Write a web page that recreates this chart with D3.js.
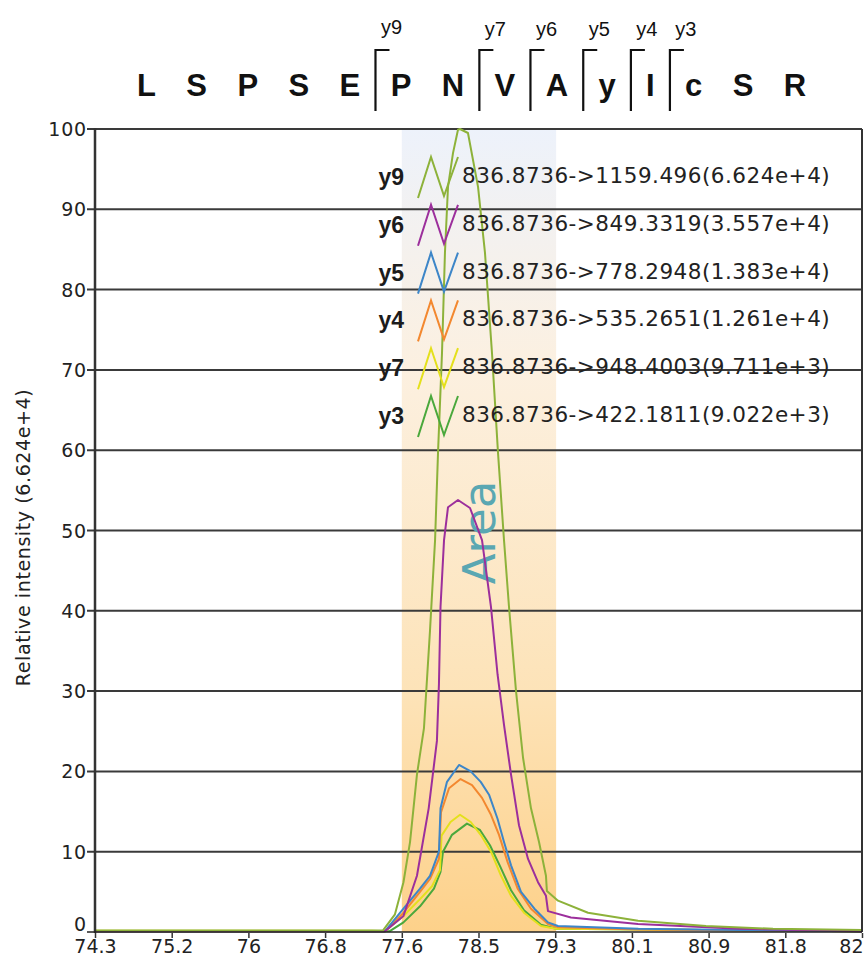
<!DOCTYPE html>
<html>
<head>
<meta charset="utf-8">
<script src="https://cdn.jsdelivr.net/npm/d3@7"></script>
<style>
  body { margin: 0; background: #fff; }
  svg { display: block; }
</style>
</head>
<body>
<div id="wrapper"></div>
<script>
// peptide sequence and fragment breaks
const sequence = ["L", "S", "P", "S", "E", "P", "N", "V", "A", "y", "I", "c", "S", "R"];
const fragmentNames = ["y9", "y7", "y6", "y5", "y4", "y3"];
const fragmentBefore = [5, 7, 8, 9, 10, 11]; // index of residue right after the bracket

// x axis tick labels (retention time)
const xTickLabels = ["74.3", "75.2", "76", "76.8", "77.6", "78.5", "79.3", "80.1", "80.9", "81.8", "82"];
const yTicks = [0, 10, 20, 30, 40, 50, 60, 70, 80, 90, 100];

// integration window
const areaStart = 77.62;
const areaEnd = 79.29;

// legend
const traceNames = ["y9", "y6", "y5", "y4", "y7", "y3"];
const traceTransitions = [
  "836.8736->1159.496(6.624e+4)",
  "836.8736->849.3319(3.557e+4)",
  "836.8736->778.2948(1.383e+4)",
  "836.8736->535.2651(1.261e+4)",
  "836.8736->948.4003(9.711e+3)",
  "836.8736->422.1811(9.022e+3)"
];
const traceColors = ["#8db23a", "#9c2f9c", "#3d86c8", "#f3882f", "#e4e01c", "#4aa83c"];

// traces: [retention time, relative intensity]
const y9Trace = [
  [74.3, 0.2], [76.0, 0.2], [77.3, 0.2], [77.417, 0.2], [77.546, 2.2], [77.638, 6.2], [77.709, 11.2],
  [77.784, 19.6], [77.86, 25.4], [77.925, 37.5], [77.98, 48.8], [78.012, 59.7], [78.055, 72.1],
  [78.087, 84.6], [78.12, 92.8], [78.174, 97.0], [78.228, 99.9], [78.25, 100], [78.336, 99.5],
  [78.445, 92.8], [78.52, 84.6], [78.596, 72.1], [78.661, 59.7], [78.726, 48.8], [78.78, 40.5],
  [78.856, 30.0], [78.932, 21.7], [79.018, 15.4], [79.105, 11.2], [79.18, 7.0], [79.19, 5.1],
  [79.31, 3.9], [79.635, 2.4], [80.176, 1.4], [80.912, 0.75], [81.637, 0.4], [82.6, 0.25]
];
const y6Trace = [
  [74.3, 0.1], [77.3, 0.1], [77.438, 0.1], [77.638, 2.0], [77.784, 7.0], [77.911, 15.4], [78.0, 23.8],
  [78.022, 30.9], [78.039, 40.5], [78.077, 48.8], [78.12, 52.9], [78.228, 53.8], [78.358, 52.8],
  [78.488, 48.8], [78.585, 40.5], [78.656, 32.1], [78.726, 25.8], [78.802, 19.6], [78.888, 13.3],
  [78.986, 9.1], [79.094, 6.2], [79.18, 4.5], [79.202, 2.6], [79.45, 1.8], [80.176, 1.0],
  [81.27, 0.4], [82.6, 0.1]
];
const y5Trace = [
  [74.3, 0.1], [77.3, 0.1], [77.438, 0.1], [77.638, 2.9], [77.817, 5.4], [77.925, 7.0], [78.022, 10.0],
  [78.039, 15.4], [78.109, 18.7], [78.239, 20.8], [78.366, 20.0], [78.474, 18.7], [78.564, 17.1],
  [78.656, 14.1], [78.726, 11.2], [78.802, 8.3], [78.91, 5.0], [79.055, 2.9], [79.202, 1.2],
  [79.31, 0.75], [80.18, 0.4], [81.27, 0.25], [82.6, 0.1]
];
const y4Trace = [
  [74.3, 0.1], [77.3, 0.1], [77.438, 0.1], [77.638, 2.4], [77.817, 5.0], [77.925, 6.6], [78.022, 9.1],
  [78.044, 14.9], [78.131, 17.9], [78.256, 19.05], [78.38, 18.3], [78.488, 16.7], [78.585, 14.6],
  [78.672, 12.1], [78.765, 8.7], [78.874, 5.4], [79.018, 2.9], [79.202, 1.0], [79.31, 0.6],
  [80.176, 0.3], [82.6, 0.1]
];
const y7Trace = [
  [74.3, 0.15], [77.3, 0.15], [77.438, 0.1], [77.638, 2.0], [77.817, 4.1], [77.947, 5.7], [78.033, 7.7],
  [78.05, 12.0], [78.147, 13.7], [78.25, 14.6], [78.366, 13.7], [78.474, 12.1], [78.585, 10.0],
  [78.694, 7.0], [78.802, 4.5], [78.942, 2.4], [79.126, 0.75], [79.288, 0.4], [82.6, 0.1]
];
const y3Trace = [
  [74.3, 0.1], [77.3, 0.1], [77.49, 0.1], [77.638, 1.2], [77.817, 3.2], [77.968, 5.4], [78.039, 7.5],
  [78.066, 10.0], [78.163, 12.1], [78.325, 13.5], [78.466, 12.7], [78.574, 10.8], [78.683, 8.2],
  [78.802, 5.2], [78.942, 2.7], [79.126, 0.9], [79.288, 0.4], [82.6, 0.1]
];
const traces = [y9Trace, y6Trace, y5Trace, y4Trace, y7Trace, y3Trace];

// dimensions
const width = 867, height = 956;
const plot = { left: 95, right: 862, top: 129, bottom: 932 };

const svg = d3.select("#wrapper").append("svg")
  .attr("width", width)
  .attr("height", height);

// scales
const x = d3.scaleLinear().domain([74.3, 82.6]).range([plot.left, plot.right]);
const y = d3.scaleLinear().domain([0, 100]).range([plot.bottom, plot.top]);
const xTickValues = xTickLabels.map((d, i) => x.invert(plot.left + i * (plot.right - plot.left) / (xTickLabels.length - 1)));

// shaded area
const defs = svg.append("defs");
const grad = defs.append("linearGradient")
  .attr("id", "areaGrad")
  .attr("x1", 0).attr("y1", 0).attr("x2", 0).attr("y2", 1);
grad.append("stop").attr("offset", "0%").attr("stop-color", "#edf2fb");
grad.append("stop").attr("offset", "30%").attr("stop-color", "#fcf0e0");
grad.append("stop").attr("offset", "70%").attr("stop-color", "#fde3b8");
grad.append("stop").attr("offset", "100%").attr("stop-color", "#fdd18a");

svg.append("rect")
  .attr("x", x(areaStart))
  .attr("width", x(areaEnd) - x(areaStart))
  .attr("y", y(100))
  .attr("height", y(0) - y(100))
  .attr("fill", "url(#areaGrad)");

// grid lines
svg.append("g").selectAll("line")
  .data(yTicks.filter(d => d > 0))
  .enter().append("line")
  .attr("x1", plot.left - 8)
  .attr("x2", plot.right)
  .attr("y1", d => y(d))
  .attr("y2", d => y(d))
  .attr("stroke", "#3a3a3a")
  .attr("stroke-width", 2);

// y labels
svg.append("g").selectAll("text")
  .data(yTicks)
  .enter().append("text")
  .attr("x", 87)
  .attr("y", d => y(d) + (d === 0 ? -1 : 7))
  .attr("text-anchor", "end")
  .style("font-family", "DejaVu Sans")
  .style("font-size", "19px")
  .style("letter-spacing", "0.8px")
  .style("fill", "#222")
  .text(d => d);

// "Area" label
svg.append("text")
  .attr("transform", `translate(495, ${y(50) + 2}) rotate(-90)`)
  .attr("text-anchor", "middle")
  .style("font-family", "DejaVu Sans")
  .style("font-size", "45px")
  .style("fill", "#5aa7b2")
  .text("Area");

// traces
const line = d3.line()
  .x(d => x(d[0]))
  .y(d => y(d[1]));

svg.append("g").selectAll("path")
  .data(traces.map((t, i) => ({ t, i })).reverse())
  .enter().append("path")
  .attr("d", d => line(d.t))
  .attr("fill", "none")
  .attr("stroke", d => traceColors[d.i])
  .attr("stroke-width", 2)
  .attr("stroke-linejoin", "round");

// axes frame
svg.append("line")
  .attr("x1", plot.left).attr("x2", plot.left)
  .attr("y1", plot.top - 1).attr("y2", plot.bottom + 1)
  .attr("stroke", "#333").attr("stroke-width", 2.5);
svg.append("line")
  .attr("x1", plot.right).attr("x2", plot.right)
  .attr("y1", plot.top).attr("y2", plot.bottom)
  .attr("stroke", "#333").attr("stroke-width", 2);
svg.append("line")
  .attr("x1", plot.left - 8).attr("x2", plot.right)
  .attr("y1", plot.bottom).attr("y2", plot.bottom)
  .attr("stroke", "#222").attr("stroke-width", 1.5);

// x axis
const xAxis = d3.axisBottom(x)
  .tickValues(xTickValues)
  .tickFormat((d, i) => xTickLabels[i])
  .tickSize(5)
  .tickPadding(2);
const xAxisG = svg.append("g")
  .attr("transform", `translate(0, ${plot.bottom + 1})`)
  .call(xAxis);
xAxisG.select(".domain").remove();
xAxisG.selectAll("line").attr("stroke", "#333").attr("stroke-width", 1.5);
xAxisG.selectAll("text")
  .style("font-family", "DejaVu Sans")
  .style("font-size", "19px")
  .style("fill", "#222")
  .attr("text-anchor", (d, i) => i === xTickLabels.length - 1 ? "end" : "middle")
  .attr("dx", (d, i) => i === xTickLabels.length - 1 ? 1 : 0);

// y title
svg.append("text")
  .attr("transform", `translate(30, ${y(50) + 7}) rotate(-90)`)
  .attr("text-anchor", "middle")
  .style("font-family", "DejaVu Sans")
  .style("font-size", "19px")
  .style("letter-spacing", "0.6px")
  .style("fill", "#222")
  .text("Relative intensity (6.624e+4)");

// legend
const legendTop = 183, legendStep = 47.8;
const legend = svg.append("g");
const zig = d3.line();
traceNames.forEach((name, i) => {
  const b = legendTop + i * legendStep;
  legend.append("text")
    .attr("x", 404)
    .attr("y", b + 2)
    .attr("text-anchor", "end")
    .style("font-family", "Liberation Sans, Arial")
    .style("font-weight", "bold")
    .style("font-size", "23px")
    .style("fill", "#1c1c1c")
    .text(name);
  legend.append("path")
    .attr("d", zig([[418, b + 15], [431, b - 26], [444, b + 13], [458, b - 26]]))
    .attr("fill", "none")
    .attr("stroke", traceColors[i])
    .attr("stroke-width", 2);
  legend.append("text")
    .attr("x", 462)
    .attr("y", b)
    .style("font-family", "DejaVu Sans")
    .style("font-size", "21.5px")
    .style("letter-spacing", "0.5px")
    .style("fill", "#222")
    .text(traceTransitions[i]);
});

// peptide sequence with fragment brackets
const pep = svg.append("g");
const gap = 30.4;
let cursor = 137;
const letterBoxes = [];
sequence.forEach(ch => {
  const t = pep.append("text")
    .attr("y", 96)
    .style("font-family", "Liberation Sans, Arial")
    .style("font-weight", "bold")
    .style("font-size", "31px")
    .style("fill", "#111")
    .text(ch);
  const w = t.node().getComputedTextLength();
  t.attr("x", cursor);
  letterBoxes.push({ left: cursor, right: cursor + w });
  cursor += w + gap;
});

fragmentBefore.forEach((idx, i) => {
  const bx = (letterBoxes[idx - 1].right + letterBoxes[idx].left) / 2;
  pep.append("path")
    .attr("d", `M${bx},111V50H${bx + 14}`)
    .attr("fill", "none")
    .attr("stroke", "#111")
    .attr("stroke-width", 2.2);
  pep.append("text")
    .attr("x", bx + 16)
    .attr("y", i === 0 ? 34 : 36)
    .attr("text-anchor", "middle")
    .style("font-family", "Liberation Sans, Arial")
    .style("font-size", "20px")
    .style("fill", "#111")
    .text(fragmentNames[i]);
});
</script>
</body>
</html>
